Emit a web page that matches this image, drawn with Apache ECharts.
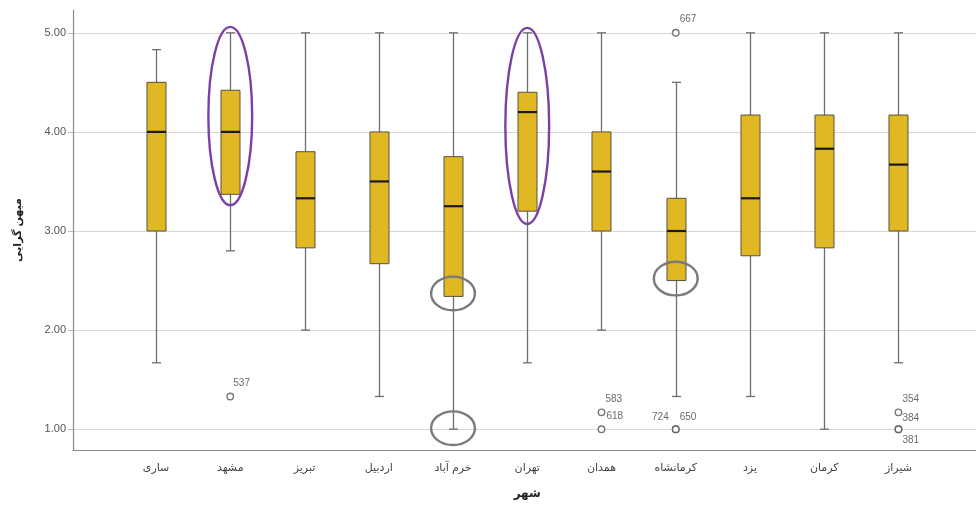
<!DOCTYPE html>
<html>
<head>
<meta charset="utf-8">
<script src="https://cdn.jsdelivr.net/npm/echarts@6/dist/echarts.min.js"></script>
<style>
html,body{margin:0;padding:0;background:#fff;}
#main{width:976px;height:508px;}
</style>
</head>
<body>
<div id="main"></div>
<script>
// ---- Data ----
var cities = ['ساری','مشهد','تبریز','اردبیل','خرم آباد','تهران','همدان','کرمانشاه','یزد','کرمان','شیراز'];
var whiskerLow = [1.67, 2.80, 2.00, 1.33, 1.00, 1.67, 2.00, 1.33, 1.33, 1.00, 1.67];
var q1Values   = [3.00, 3.37, 2.83, 2.67, 2.34, 3.20, 3.00, 2.50, 2.75, 2.83, 3.00];
var medians    = [4.00, 4.00, 3.33, 3.50, 3.25, 4.20, 3.60, 3.00, 3.33, 3.83, 3.67];
var q3Values   = [4.50, 4.42, 3.80, 4.00, 3.75, 4.40, 4.00, 3.33, 4.17, 4.17, 4.17];
var whiskerHigh= [4.83, 5.00, 5.00, 5.00, 5.00, 5.00, 5.00, 4.50, 5.00, 5.00, 5.00];
var outlierCity  = [1, 7, 7, 7, 6, 6, 10, 10, 10];
var outlierValue = [1.33, 5.00, 1.00, 1.00, 1.17, 1.00, 1.17, 1.00, 1.00];
var outlierId    = ['537','667','724','650','583','618','354','384','381'];
var yTicks = [1, 2, 3, 4, 5];
// annotations: [city index, centre value, half height (value units)]
var purpleRings = [[1, 4.16, 0.90], [5, 4.06, 0.99]];
var grayRings   = [[4, 2.37, 0.17], [4, 1.01, 0.17], [7, 2.52, 0.17]];

// ---- label placement (style only) ----
var labelOffset = {
  '537':[3,-13,'left'], '667':[4,-14,'left'], '724':[-7,-12,'right'], '650':[4,-12,'left'],
  '583':[4,-13,'left'], '618':[5,-13,'left'], '354':[4,-13,'left'], '384':[4,-11,'left'], '381':[4,11,'left']
};

var FONT = "'Liberation Sans','DejaVu Sans',sans-serif";
var boxData = cities.map(function(c,i){ return [i, whiskerLow[i], q1Values[i], medians[i], q3Values[i], whiskerHigh[i]]; });
var outlierData = outlierCity.map(function(c,i){ return [c, outlierValue[i], outlierId[i]]; });

var YMIN = 0.79, YMAX = 5.23;

function renderBox(params, api){
  var x = api.value(0);
  var lo = api.coord([x, api.value(1)]);
  var q1 = api.coord([x, api.value(2)]);
  var md = api.coord([x, api.value(3)]);
  var q3 = api.coord([x, api.value(4)]);
  var hi = api.coord([x, api.value(5)]);
  var band = api.size([1,0])[0];
  var half = band * 0.128;
  var cap = 4.5;
  var cx = Math.round(lo[0]) + 0.5;
  var wStyle = {stroke:'#6e6e6e', lineWidth:1.3, fill:null};
  return {type:'group', children:[
    {type:'line', shape:{x1:cx,y1:hi[1],x2:cx,y2:q3[1]}, style:wStyle},
    {type:'line', shape:{x1:cx,y1:q1[1],x2:cx,y2:lo[1]}, style:wStyle},
    {type:'line', shape:{x1:cx-cap,y1:hi[1],x2:cx+cap,y2:hi[1]}, style:wStyle},
    {type:'line', shape:{x1:cx-cap,y1:lo[1],x2:cx+cap,y2:lo[1]}, style:wStyle},
    {type:'rect', shape:{x:cx-half, y:q3[1], width:half*2, height:q1[1]-q3[1]},
      style:{fill:'#E0B823', stroke:'#5a5040', lineWidth:1}},
    {type:'line', shape:{x1:cx-half,y1:md[1],x2:cx+half,y2:md[1]}, style:{stroke:'#1a1a1a', lineWidth:2.2}}
  ]};
}

function ringRenderer(color, widthFrac){
  return function(params, api){
    var c = api.coord([api.value(0), api.value(1)]);
    var ry = api.size([0, api.value(2)])[1];
    var rx = api.size([1,0])[0] * widthFrac;
    return {type:'ellipse', shape:{cx:c[0], cy:c[1], rx:rx, ry:ry},
      style:{fill:null, stroke:color, lineWidth:2.4}};
  };
}

var chart = echarts.init(document.getElementById('main'), null, {renderer:'canvas'});
chart.setOption({
  animation:false,
  backgroundColor:'#ffffff',
  textStyle:{fontFamily:FONT},
  grid:[
    {left:73, right:0, top:10, bottom:58},
    {left:118.9, right:40.4, top:10, bottom:58}
  ],
  xAxis:[
    {type:'value', gridIndex:0, min:0, max:1,
     axisLine:{show:true, onZero:false, lineStyle:{color:'#8c8c8c', width:1.2}},
     axisTick:{show:false}, axisLabel:{show:false}, splitLine:{show:false}},
    {type:'category', gridIndex:1, data:cities, boundaryGap:true,
     axisLine:{show:false}, axisTick:{show:false},
     axisLabel:{color:'#444', fontSize:11, margin:12, fontFamily:FONT},
     name:'شهر', nameLocation:'middle', nameGap:38,
     nameTextStyle:{color:'#222', fontSize:12, fontWeight:'bold', fontFamily:FONT}}
  ],
  yAxis:[
    {type:'value', gridIndex:0, min:YMIN, max:YMAX,
     axisLine:{show:true, lineStyle:{color:'#8c8c8c', width:1.2}},
     axisTick:{show:true, length:5, customValues:yTicks, lineStyle:{color:'#bbb'}},
     axisLabel:{customValues:yTicks, color:'#555', fontSize:11, margin:7, fontFamily:FONT,
       formatter:function(v){ return Number(v).toFixed(2); }},
     splitLine:{show:true, lineStyle:{color:'#d6d6d6', width:1}},
     name:'میهن گرایی', nameLocation:'middle', nameGap:50, nameRotate:90,
     nameTextStyle:{color:'#222', fontSize:11, fontWeight:'bold', fontFamily:FONT}},
    {type:'value', gridIndex:1, min:YMIN, max:YMAX, show:false, splitLine:{show:false}}
  ],
  series:[
    {type:'custom', xAxisIndex:1, yAxisIndex:1, data:boxData, renderItem:renderBox,
     encode:{x:0, y:[1,2,3,4,5]}, clip:false, z:3},
    {type:'scatter', xAxisIndex:1, yAxisIndex:1, data:outlierData, symbol:'circle', symbolSize:6.5,
     itemStyle:{color:'#ffffff', borderColor:'#555', borderWidth:1.4}, z:4,
     label:{show:true, fontSize:10, color:'#444', fontFamily:FONT, position:'inside',
       formatter:function(p){ return p.data[2]; }},
     labelLayout:function(p){
       var id = outlierData[p.dataIndex][2];
       var o = labelOffset[id];
       var r = p.rect;
       var cx = r.x + r.width/2, cy = r.y + r.height/2;
       return {x: cx + o[0], y: cy + o[1], align:o[2], verticalAlign:'middle'};
     }},
    {type:'custom', xAxisIndex:1, yAxisIndex:1, data:purpleRings, renderItem:ringRenderer('#7B3FA6', 0.295),
     encode:{x:0, y:1}, clip:false, z:5, silent:true},
    {type:'custom', xAxisIndex:1, yAxisIndex:1, data:grayRings, renderItem:ringRenderer('#7a7a7a', 0.295),
     encode:{x:0, y:1}, clip:false, z:5, silent:true}
  ]
});
</script>
</body>
</html>
